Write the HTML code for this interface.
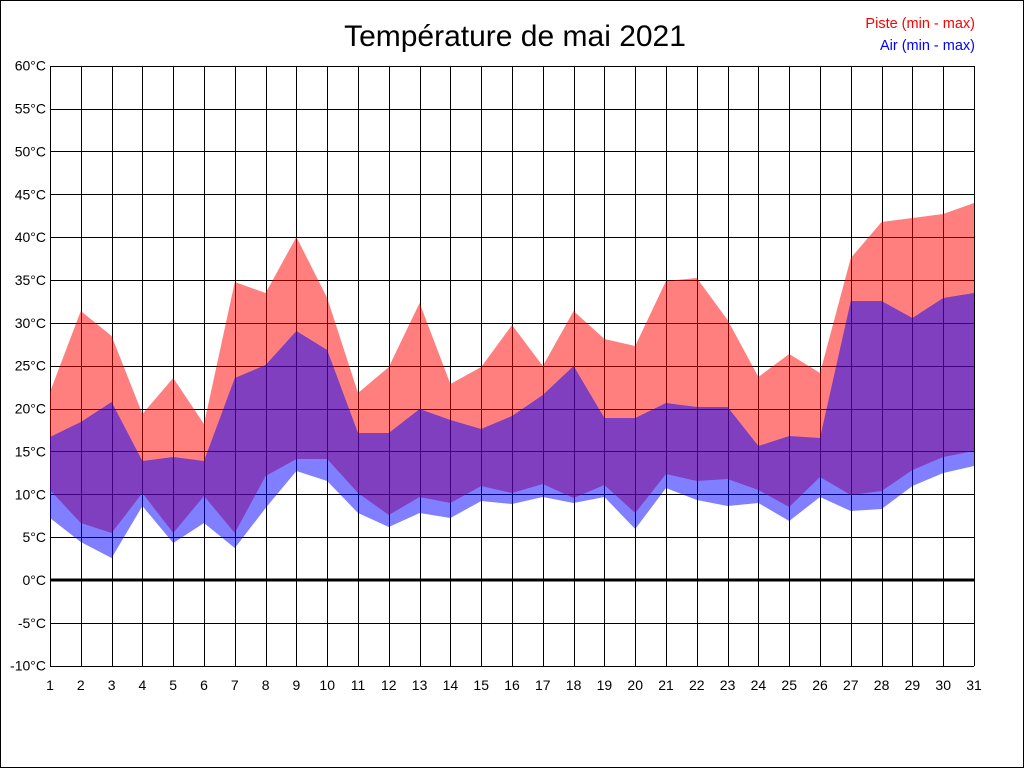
<!DOCTYPE html>
<html><head><meta charset="utf-8"><style>html,body{margin:0;padding:0;background:#fff}svg{display:block}</style></head>
<body>
<svg width="1024" height="768" xmlns="http://www.w3.org/2000/svg" font-family="Liberation Sans, Arial, sans-serif">
<rect x="0.5" y="0.5" width="1023" height="767" fill="#fff" stroke="#000"/>
<g id="grid" stroke="#000" stroke-width="1" shape-rendering="crispEdges"></g>
<g id="fills"></g>
<line x1="50" y1="580" x2="974" y2="580" stroke="#000" stroke-width="3"/>
<g id="labels" font-size="14" fill="#000"></g>
<text x="515" y="46" font-size="30" text-anchor="middle">Température de mai 2021</text>
<text x="975" y="28" font-size="14.5" text-anchor="end" fill="#ff0000">Piste (min - max)</text>
<text x="975" y="50" font-size="14.5" text-anchor="end" fill="#0000ff">Air (min - max)</text>
</svg>
<script>
var ns="http://www.w3.org/2000/svg";
function el(p,t,a,txt){var e=document.createElementNS(ns,t);for(var k in a)e.setAttribute(k,a[k]);if(txt!==undefined)e.textContent=txt;p.appendChild(e);return e;}
var g=document.getElementById('grid'),L=document.getElementById('labels'),F=document.getElementById('fills');
function X(d){return 50+30.8*(d-1);}
function Y(t){return 580-t*600/70;}
for(var d=1;d<=31;d++){var x=Math.round(X(d))+0.5;el(g,'line',{x1:x,y1:66,x2:x,y2:666});el(L,'text',{x:X(d),y:690,'text-anchor':'middle'},String(d));}
for(var t=-10;t<=60;t+=5){var y=Math.round(Y(t))+0.5;el(g,'line',{x1:50,y1:y,x2:974,y2:y});el(L,'text',{x:46,y:Y(t)+5,'text-anchor':'end'},t+'°C');}
var rmax=[392,311,336,414,378,424,282,293,237,298,393,367,303,384,367,325,366,311,339,346,281,278,320,377,354,373,258,222,218,214,203];
var rmin=[490,523,533,493,533,496,533,476,459,459,493,515,497,503,486,493,484,498,485,513,474,481,479,490,507,477,495,491,470,457,451];
var bmax=[437,422,402,461,457,461,378,365,331,350,433,433,409,420,429,416,395,366,418,418,403,407,407,446,436,438,301,301,318,298,293];
var bmin=[518,542,558,506,543,523,548,508,471,481,513,527,513,518,501,504,497,503,497,529,488,500,506,503,521,497,511,509,486,473,466];
function poly(top,bot,c){var p=[];for(var i=0;i<31;i++)p.push(X(i+1)+','+top[i]);for(var i=30;i>=0;i--)p.push(X(i+1)+','+bot[i]);el(F,'polygon',{points:p.join(' '),fill:c,'fill-opacity':0.5});}
poly(rmax,rmin,'#ff0000');poly(bmax,bmin,'#0000ff');
</script>
</body></html>
